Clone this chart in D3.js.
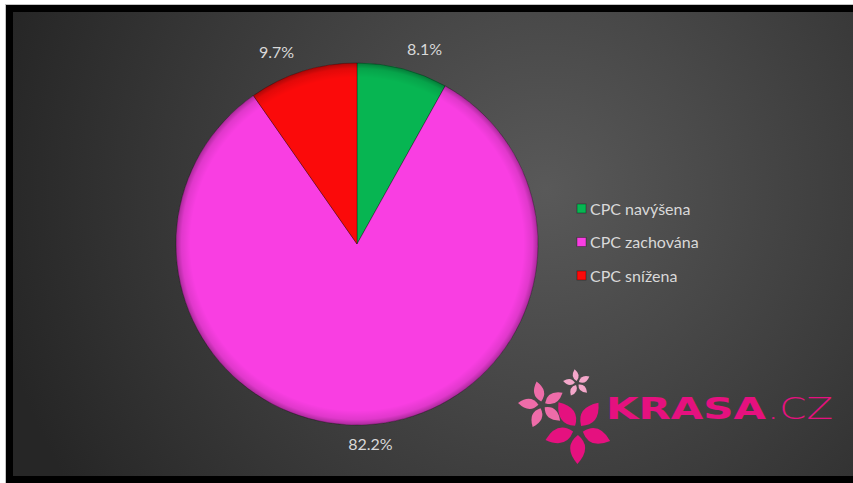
<!DOCTYPE html>
<html>
<head>
<meta charset="utf-8">
<script src="https://cdn.jsdelivr.net/npm/d3@7"></script>
<style>
  body { margin: 0; background: #fff; }
  svg { display: block; }
</style>
</head>
<body>
<div id="chart"></div>
<script>
// data
const categories = ["CPC navýšena", "CPC zachována", "CPC snížena"];
const values = [8.1, 82.2, 9.7];
const labels = ["8.1%", "82.2%", "9.7%"];
const colors = ["#07b552", "#f93ee2", "#fb0a0a"];

const width = 853, height = 483;
const cx = 357, cy = 244, radius = 181;

let svg = d3.select("#chart").append("svg")
    .attr("width", width)
    .attr("height", height);

let defs = svg.append("defs");

// background gradient
let bg = defs.append("radialGradient")
    .attr("id", "bgGrad")
    .attr("gradientUnits", "userSpaceOnUse")
    .attr("cx", 545).attr("cy", 190).attr("r", 560);
bg.append("stop").attr("offset", "0%").attr("stop-color", "#595959");
bg.append("stop").attr("offset", "55%").attr("stop-color", "#3d3d3d");
bg.append("stop").attr("offset", "100%").attr("stop-color", "#262626");

// bevel shading for pie rim (local coords of the pie group)
let rim = defs.append("radialGradient")
    .attr("id", "rimGrad")
    .attr("gradientUnits", "userSpaceOnUse")
    .attr("cx", 0).attr("cy", 0).attr("r", radius);
rim.append("stop").attr("offset", "92%").attr("stop-color", "#000").attr("stop-opacity", 0);
rim.append("stop").attr("offset", "97%").attr("stop-color", "#000").attr("stop-opacity", 0.1);
rim.append("stop").attr("offset", "100%").attr("stop-color", "#000").attr("stop-opacity", 0.32);

//frame
svg.append("rect")
    .attr("x", 5.5).attr("y", 4.5)
    .attr("width", width).attr("height", height)
    .attr("fill", "#000")
    .attr("stroke", "#c4c4c4");
svg.append("rect")
    .attr("x", 13).attr("y", 12)
    .attr("width", width - 13).attr("height", 476 - 12)
    .attr("fill", "url(#bgGrad)");

// pie
let pie = d3.pie().sort(null).value(d => d)(values);
let arc = d3.arc().innerRadius(0).outerRadius(radius);

let g = svg.append("g").attr("transform", "translate(" + cx + "," + cy + ")");

g.selectAll("path.slice")
    .data(pie)
    .enter()
    .append("path")
    .attr("class", "slice")
    .attr("d", arc)
    .attr("fill", (d, i) => colors[i])
    .attr("stroke", "rgba(0,0,0,0.3)")
    .attr("stroke-width", 1);

// rim shading over slices
g.append("circle")
    .attr("r", radius)
    .attr("fill", "url(#rimGrad)");

// data labels (outside end, excel-like)
let labelArc = d3.arc().innerRadius(201).outerRadius(201);
g.selectAll("text.lbl")
    .data(pie)
    .enter()
    .append("text")
    .attr("class", "lbl")
    .attr("x", d => {
        let a = (d.startAngle + d.endAngle) / 2;
        return labelArc.centroid(d)[0] + Math.sin(a) * 67;
    })
    .attr("y", d => labelArc.centroid(d)[1])
    .attr("dy", "0.35em")
    .attr("text-anchor", "middle")
    .attr("font-family", "Lato, sans-serif")
    .attr("font-size", "16px")
    .attr("fill", "#d9d9d9")
    .text((d, i) => labels[i]);

// legend
let legend = svg.append("g").attr("transform", "translate(577,209)");
let item = legend.selectAll("g")
    .data(categories)
    .enter()
    .append("g")
    .attr("transform", (d, i) => "translate(0," + (i * 33.5) + ")");
item.append("rect")
    .attr("x", 0).attr("y", -5)
    .attr("width", 9).attr("height", 9)
    .attr("fill", (d, i) => colors[i])
    .attr("stroke", "rgba(0,0,0,0.4)")
    .attr("stroke-width", 0.8);
item.append("text")
    .attr("x", 13)
    .attr("y", 0)
    .attr("dy", "0.35em")
    .attr("font-family", "Lato, sans-serif")
    .attr("font-size", "16px")
    .attr("fill", "#d9d9d9")
    .text(d => d);

// KRASA.CZ logo
function flower(x, y, len, wid, rot, color) {
    let fg = svg.append("g").attr("transform", "translate(" + x + "," + y + ")");
    for (let k = 0; k < 5; k++) {
        fg.append("path")
            .attr("d", "M0," + (-len * 0.15) + " Q" + wid + "," + (-len * 0.5) + " 0," + (-len) +
                " Q" + (-wid) + "," + (-len * 0.5) + " 0," + (-len * 0.15) + "Z")
            .attr("transform", "rotate(" + (rot + k * 72) + ")")
            .attr("fill", color);
    }
}
flower(578, 430, 34, 15, -35, "#e5117f");
flower(542, 405, 24, 10, -85, "#ee6ca9");
flower(577, 383, 14, 6, -10, "#f4a7ca");

svg.append("text")
    .attr("x", 606).attr("y", 419)
    .attr("font-family", "DejaVu Sans, sans-serif")
    .attr("font-weight", "bold")
    .attr("font-size", "30px")
    .attr("textLength", 160)
    .attr("lengthAdjust", "spacingAndGlyphs")
    .attr("fill", "#e5117f")
    .text("KRASA");
svg.append("text")
    .attr("x", 767).attr("y", 419)
    .attr("font-family", "DejaVu Sans, sans-serif")
    .attr("font-weight", "200")
    .attr("font-size", "31px")
    .attr("textLength", 66)
    .attr("lengthAdjust", "spacingAndGlyphs")
    .attr("fill", "#e5117f")
    .text(".CZ");
</script>
</body>
</html>
